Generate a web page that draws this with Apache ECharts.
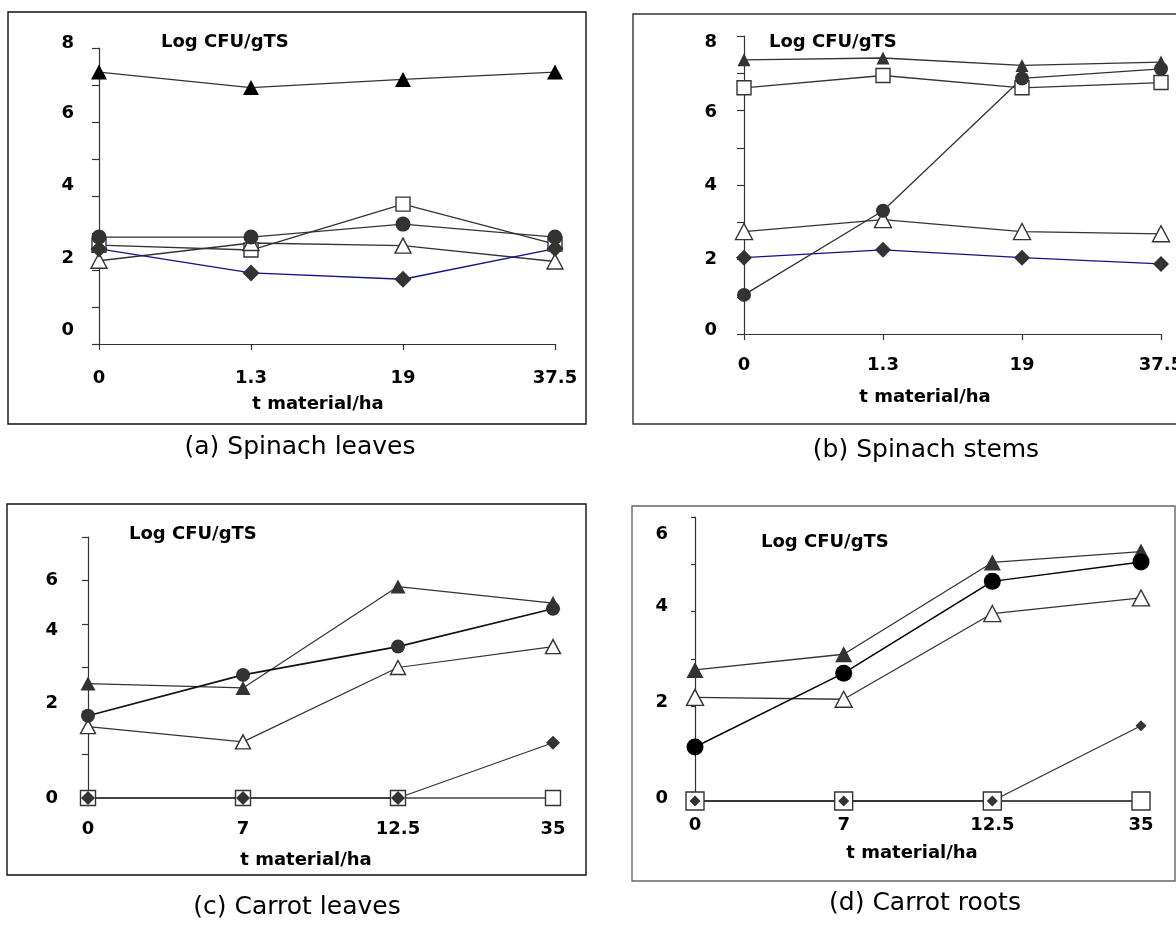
<!DOCTYPE html>
<html>
<head>
<meta charset="utf-8">
<title>Log CFU/gTS</title>
<script src="https://cdn.jsdelivr.net/npm/echarts@6/dist/echarts.min.js"></script>
<style>
  html, body { margin: 0; padding: 0; background: #fff; }
  #main { width: 1176px; height: 926px; }
</style>
</head>
<body>
<div id="main"></div>
<script>
// x categories (t material/ha)
const spinachDoses = ['0', '1.3', '19', '37.5'];
const carrotDoses = ['0', '7', '12.5', '35'];

// (a) Spinach leaves, Log CFU/gTS
const aFilledTri = [7.35, 6.93, 7.15, 7.35];
const aSquare = [2.67, 2.54, 3.78, 2.7];
const aOpenTri = [2.25, 2.73, 2.66, 2.23];
const aDiamond = [2.57, 1.92, 1.75, 2.58];
const aCircle = [2.89, 2.89, 3.24, 2.89];

// (b) Spinach stems
const bFilledTri = [7.36, 7.41, 7.21, 7.3];
const bSquare = [6.61, 6.94, 6.61, 6.75];
const bOpenTri = [2.75, 3.07, 2.75, 2.69];
const bDiamond = [2.05, 2.26, 2.05, 1.88];
const bCircle = [1.05, 3.31, 6.86, 7.12];

// (c) Carrot leaves
const cSquare = [0, 0, 0, 0];
const cDiamond = [0, 0, 0, 1.27];
const cOpenTri = [1.64, 1.29, 3.0, 3.48];
const cFilledTri = [2.63, 2.53, 4.86, 4.48];
const cCircle = [1.89, 2.83, 3.48, 4.35];

// (d) Carrot roots
const dSquare = [0, 0, 0, 0];
const dDiamond = [0, 0, 0, 1.59];
const dOpenTri = [2.19, 2.15, 3.96, 4.29];
const dFilledTri = [2.77, 3.1, 5.04, 5.27];
const dCircle = [1.14, 2.7, 4.64, 5.05];

// tick labels as printed on each y axis
const aYLabels = { 0: '0', 2: '2', 4: '4', 6: '6', 8: '8' };
const bYLabels = { 0: '0', 2: '2', 4: '4', 6: '6', 8: '8' };
const cYLabels = { 0: '0', 2: '2', 4: '4', 5: '6' };
const dYLabels = { 0: '0', 2: '2', 4: '4', 6: '6' };

const BOLD = { color: '#000', fontFamily: 'DejaVu Sans', fontWeight: 'bold', fontSize: 18 };

function ser(name, data, gi, symbol, size, fill, lineColor, lineWidth) {
  return {
    name: name,
    type: 'line',
    xAxisIndex: gi,
    yAxisIndex: gi,
    data: data,
    symbol: symbol,
    symbolSize: size,
    showAllSymbol: true,
    clip: false,
    animation: false,
    itemStyle: {
      color: fill,
      borderColor: fill === '#fff' ? '#333' : fill,
      borderWidth: fill === '#fff' ? 1.4 : 0
    },
    lineStyle: { color: lineColor, width: lineWidth },
    emphasis: { disabled: true }
  };
}

function xAx(gi, cats, showLine, margin) {
  return {
    type: 'category',
    gridIndex: gi,
    data: cats,
    boundaryGap: false,
    axisLine: { show: showLine, onZero: false, lineStyle: { color: '#333', width: 1.2 } },
    axisTick: { show: showLine, inside: false, length: 6, alignWithLabel: true, lineStyle: { color: '#333', width: 1.2 } },
    axisLabel: Object.assign({ margin: margin, interval: 0 }, BOLD),
    splitLine: { show: false }
  };
}

// nudge: px to move a printed label up (<0) or down (>0) off its tick, as in the scan
function yAx(gi, max, labels, nudge, tickLen, margin) {
  const rich = {};
  Object.keys(nudge).forEach(function (k) {
    const n = nudge[k];
    rich['v' + k] = Object.assign({ padding: n > 0 ? [2 * n, 0, 0, 0] : [0, 0, -2 * n, 0] }, BOLD);
  });
  return {
    type: 'value',
    gridIndex: gi,
    min: 0,
    max: max,
    interval: 1,
    axisLine: { show: true, lineStyle: { color: '#333', width: 1.2 } },
    axisTick: { show: true, inside: false, length: tickLen, lineStyle: { color: '#333', width: 1.2 } },
    axisLabel: Object.assign({
      margin: margin,
      formatter: function (v) {
        const t = labels[v];
        if (t === undefined) return '';
        return nudge[v] ? '{v' + v + '|' + t + '}' : t;
      },
      rich: rich
    }, BOLD),
    splitLine: { show: false }
  };
}

function txt(text, x, y, font, align) {
  return {
    type: 'text', x: x, y: y, silent: true,
    style: { text: text, font: font, fill: '#000', textAlign: align, textVerticalAlign: 'middle' }
  };
}

function frame(x, y, w, h, color) {
  return {
    type: 'rect', silent: true,
    shape: { x: x, y: y, width: w, height: h },
    style: { fill: 'none', stroke: color, lineWidth: 1.4 }
  };
}

const boldFont = 'bold 18px "DejaVu Sans"';
const capFont = '25px "DejaVu Sans"';
const navy = '#12128a';

const option = {
  backgroundColor: '#fff',
  animation: false,
  grid: [
    { left: 99, top: 48, width: 456, height: 296, outerBoundsMode: 'none' },
    { left: 744, top: 36, width: 417, height: 298, outerBoundsMode: 'none' },
    { left: 88, top: 537, width: 465, height: 261, outerBoundsMode: 'none' },
    { left: 695, top: 517, width: 446, height: 284, outerBoundsMode: 'none' }
  ],
  xAxis: [
    xAx(0, spinachDoses, true, 25),
    xAx(1, spinachDoses, true, 22),
    xAx(2, carrotDoses, false, 22),
    xAx(3, carrotDoses, false, 15)
  ],
  yAxis: [
    yAx(0, 8, aYLabels, { 8: -5, 6: -9, 4: -11, 2: -12, 0: -14 }, 7, 25),
    yAx(1, 8, bYLabels, { 8: 6, 6: 2, 0: -4 }, 7, 27),
    yAx(2, 6, cYLabels, { 4: 6, 2: -8 }, 6, 30),
    yAx(3, 6, dYLabels, { 6: 17, 4: -5, 2: -4, 0: -3 }, 4, 27)
  ],
  series: [
    ser('a filled triangle', aFilledTri, 0, 'triangle', [16, 15], '#000', '#333', 1.3),
    ser('a open square', aSquare, 0, 'rect', 14, '#fff', '#333', 1.3),
    ser('a open triangle', aOpenTri, 0, 'triangle', [16, 15], '#fff', '#333', 1.3),
    ser('a diamond', aDiamond, 0, 'diamond', [17, 17], '#333', navy, 1.3),
    ser('a circle', aCircle, 0, 'circle', 15, '#333', '#333', 1.3),

    ser('b filled triangle', bFilledTri, 1, 'triangle', [13, 13], '#333', '#333', 1.3),
    ser('b open square', bSquare, 1, 'rect', 14, '#fff', '#333', 1.3),
    ser('b open triangle', bOpenTri, 1, 'triangle', [17, 16], '#fff', '#333', 1.3),
    ser('b diamond', bDiamond, 1, 'diamond', [16, 16], '#333', navy, 1.3),
    ser('b circle', bCircle, 1, 'circle', 14, '#333', '#333', 1.3),

    ser('c open square', cSquare, 2, 'rect', 15, '#fff', '#444', 1.3),
    ser('c diamond', cDiamond, 2, 'diamond', [14, 14], '#333', '#333', 1.3),
    ser('c open triangle', cOpenTri, 2, 'triangle', [15, 14], '#fff', '#333', 1.2),
    ser('c filled triangle', cFilledTri, 2, 'triangle', [15, 14], '#333', '#333', 1.2),
    ser('c circle', cCircle, 2, 'circle', 14, '#333', '#111', 1.6),

    ser('d open square', dSquare, 3, 'rect', 18, '#fff', '#111', 1.5),
    ser('d diamond', dDiamond, 3, 'diamond', [11, 11], '#333', '#333', 1.3),
    ser('d open triangle', dOpenTri, 3, 'triangle', [17, 16], '#fff', '#333', 1.3),
    ser('d filled triangle', dFilledTri, 3, 'triangle', [17, 16], '#333', '#333', 1.3),
    ser('d circle', dCircle, 3, 'circle', 17, '#000', '#000', 1.5)
  ],
  graphic: [
    frame(8, 12, 578, 412, '#111'),
    frame(633, 14, 600, 410, '#333'),
    frame(7, 504, 579, 371, '#111'),
    frame(632, 506, 543, 375, '#666'),

    txt('Log CFU/gTS', 161, 42, boldFont, 'left'),
    txt('Log CFU/gTS', 769, 42, boldFont, 'left'),
    txt('Log CFU/gTS', 129, 534, boldFont, 'left'),
    txt('Log CFU/gTS', 761, 542, boldFont, 'left'),

    txt('t material/ha', 318, 404, boldFont, 'center'),
    txt('t material/ha', 925, 397, boldFont, 'center'),
    txt('t material/ha', 306, 860, boldFont, 'center'),
    txt('t material/ha', 912, 853, boldFont, 'center'),

    txt('(a) Spinach leaves', 300, 447, capFont, 'center'),
    txt('(b) Spinach stems', 926, 450, capFont, 'center'),
    txt('(c) Carrot leaves', 297, 907, capFont, 'center'),
    txt('(d) Carrot roots', 925, 903, capFont, 'center')
  ]
};

const chart = echarts.init(document.getElementById('main'), null, { renderer: 'canvas' });
chart.setOption(option);
</script>
</body>
</html>
